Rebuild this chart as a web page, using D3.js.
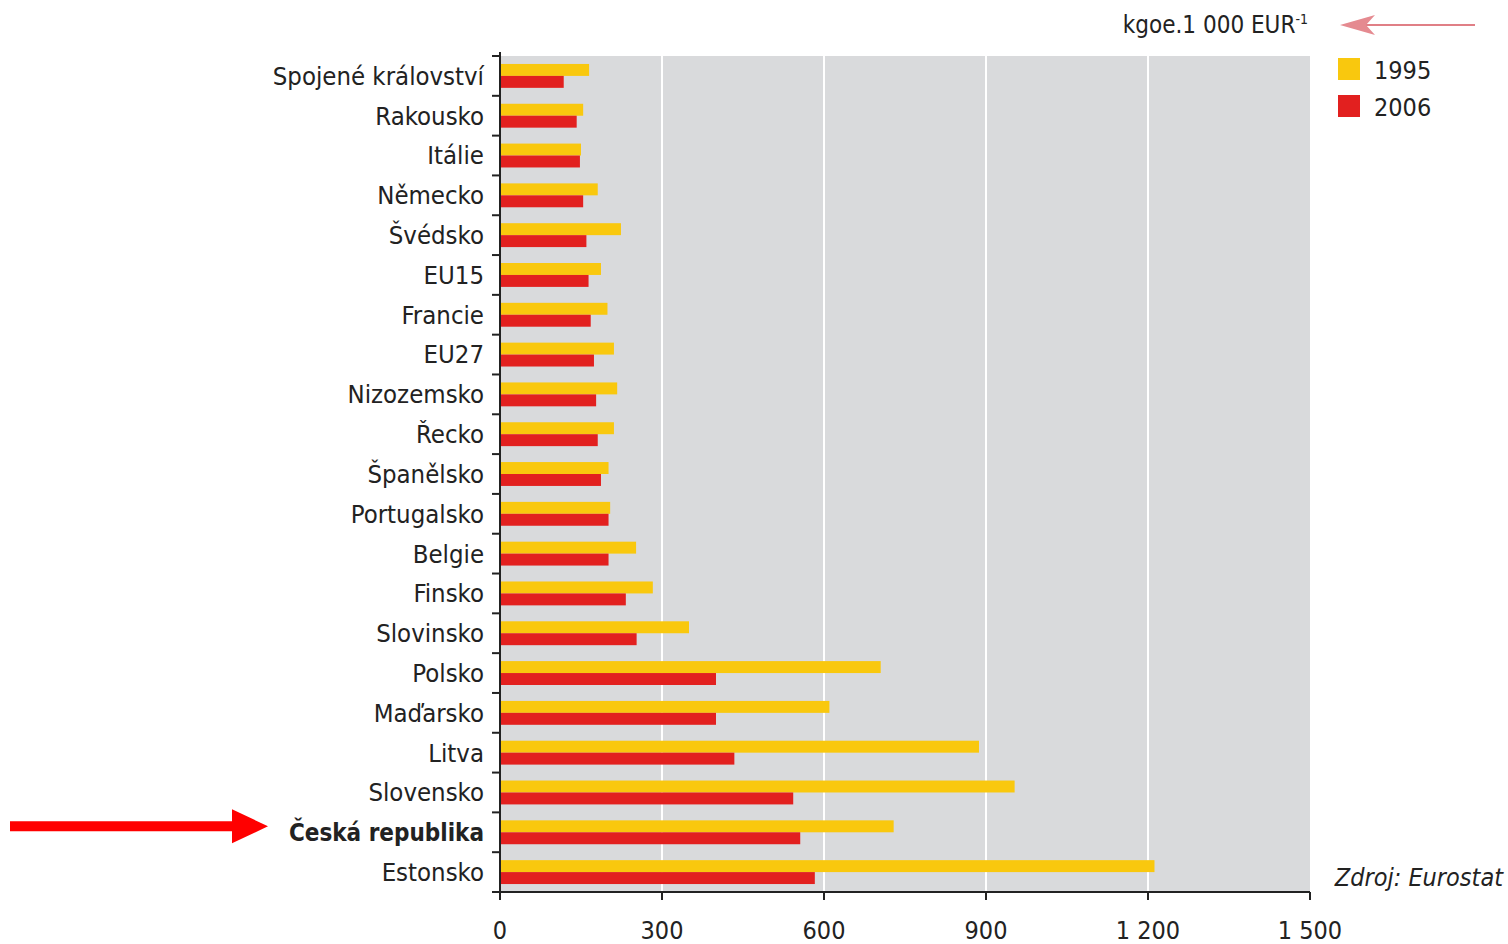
<!DOCTYPE html>
<html><head><meta charset="utf-8">
<script src="https://cdn.jsdelivr.net/npm/d3@7"></script>
<style>body{margin:0;background:#fff}svg{display:block}</style>
</head><body>
<svg id="c" width="1508" height="944"></svg>
<script>
const categories = ["Spojené království","Rakousko","Itálie","Německo","Švédsko","EU15","Francie","EU27","Nizozemsko","Řecko","Španělsko","Portugalsko","Belgie","Finsko","Slovinsko","Polsko","Maďarsko","Litva","Slovensko","Česká republika","Estonsko"];
const values1995 = [165,154,150,181,224,187,199,211,217,211,201,204,252,283,350,705,610,887,953,729,1212];
const values2006 = [118,142,148,154,160,164,168,174,178,181,187,201,201,233,253,400,400,434,543,556,583];
const seriesNames = ["1995","2006"];
const tickValues = [0,300,600,900,1200,1500];
const tickLabels = ["0","300","600","900","1 200","1 500"];
const highlight = "Česká republika";

const font = "'DejaVu Sans Condensed','DejaVu Sans',sans-serif";
const colors = {"1995":"#f9c80e","2006":"#e2201f"};
const svg = d3.select("#c");
const L = 500, R = 1310, T = 56, B = 892;
const x = d3.scaleLinear().domain([0,1500]).range([L,R]);
const y = d3.scaleBand().domain(categories).range([T,B]);
const bw = y.bandwidth();

svg.append("rect").attr("x",L).attr("y",T).attr("width",R-L).attr("height",B-T).attr("fill","#d9dadc");
svg.append("g").selectAll("line").data(tickValues.slice(1,-1)).join("line")
  .attr("x1",d=>x(d)).attr("x2",d=>x(d)).attr("y1",T).attr("y2",B)
  .attr("stroke","#fff").attr("stroke-width",2);

const rows = categories.map((c,i)=>({c, a:values1995[i], b:values2006[i]}));
const g = svg.append("g");
g.selectAll(".y95").data(rows).join("rect")
  .attr("x",x(0)).attr("y",d=>y(d.c)+bw*0.2).attr("width",d=>x(d.a)-x(0)).attr("height",bw*0.3)
  .attr("fill",colors["1995"]);
g.selectAll(".y06").data(rows).join("rect")
  .attr("x",x(0)).attr("y",d=>y(d.c)+bw*0.5).attr("width",d=>x(d.b)-x(0)).attr("height",bw*0.3)
  .attr("fill",colors["2006"]);

// left axis
const ya = svg.append("g").attr("transform",`translate(${L},0)`);
ya.append("line").attr("x1",0).attr("x2",0).attr("y1",T-4).attr("y2",B).attr("stroke","#222").attr("stroke-width",2);
const bounds = categories.map(c=>y(c)).concat([B]);
ya.selectAll(".t").data(bounds).join("line").attr("x1",-8).attr("x2",0).attr("y1",d=>d).attr("y2",d=>d).attr("stroke","#222").attr("stroke-width",2);
ya.selectAll("text").data(categories).join("text")
  .attr("x",-16).attr("y",d=>y(d)+bw/2).attr("dy","0.35em").attr("text-anchor","end")
  .attr("font-family",font).attr("font-size",d=>d===highlight?24:25.5).attr("fill","#222")
  .attr("font-weight",d=>d===highlight?"bold":"normal").text(d=>d);

// bottom axis
const xa = svg.append("g").attr("transform",`translate(0,${B})`);
xa.append("line").attr("x1",L-1).attr("x2",R).attr("y1",0).attr("y2",0).attr("stroke","#222").attr("stroke-width",2);
xa.selectAll(".t").data(tickValues).join("line").attr("x1",d=>x(d)).attr("x2",d=>x(d)).attr("y1",0).attr("y2",8).attr("stroke","#222").attr("stroke-width",2);
xa.selectAll("text").data(tickValues).join("text")
  .attr("x",d=>x(d)).attr("y",47).attr("text-anchor","middle")
  .attr("font-family",font).attr("font-size",25).attr("fill","#222").text((d,i)=>tickLabels[i]);

// unit label
const ut = svg.append("text").attr("x",1308).attr("y",33).attr("text-anchor","end")
  .attr("font-family",font).attr("font-size",24).attr("fill","#222");
ut.append("tspan").text("kgoe.1 000 EUR");
ut.append("tspan").attr("dy",-9).attr("font-size",14).text("-1");
// pink arrow
svg.append("line").attr("x1",1475).attr("x2",1350).attr("y1",25).attr("y2",25).attr("stroke","#e07f86").attr("stroke-width",2);
svg.append("path").attr("d","M1340,25 L1375,15 L1366,25 L1375,35 Z").attr("fill","#e58a90");

// legend
seriesNames.forEach((s,i)=>{
  svg.append("rect").attr("x",1338).attr("y",58+i*37).attr("width",22).attr("height",22).attr("fill",colors[s]);
  svg.append("text").attr("x",1374).attr("y",70+i*37).attr("dy","0.35em")
    .attr("font-family",font).attr("font-size",25).attr("fill","#222").text(s);
});

// source
svg.append("text").attr("x",1503).attr("y",886).attr("text-anchor","end")
  .attr("font-family",font).attr("font-size",25).attr("font-style","italic").attr("fill","#222").text("Zdroj: Eurostat");

// red arrow pointing at highlight
const hy = y(highlight)+bw/2 - 6;
svg.append("path").attr("d",`M10,${hy-5} L232,${hy-5} L232,${hy-17} L268,${hy} L232,${hy+17} L232,${hy+5} L10,${hy+5} Z`).attr("fill","#ff0000");
</script>
</body></html>
